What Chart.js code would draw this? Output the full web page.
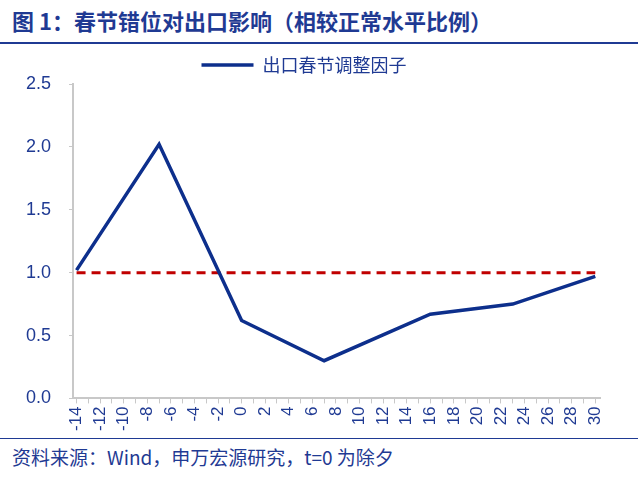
<!DOCTYPE html>
<html>
<head>
<meta charset="utf-8">
<script src="https://cdn.jsdelivr.net/npm/chart.js"></script>
<style>
  body { margin: 0; width: 638px; height: 477px; background: #fff; font-family: "Noto Sans CJK SC", "Liberation Sans", sans-serif; overflow: hidden; }
  #title { position: absolute; left: 12px; top: 4px; font-size: 22px; font-weight: bold; color: #1f3a93; }
  #topline { position: absolute; left: 0; top: 42px; width: 638px; height: 2px; background: #1f3a93; }
  #box { position: absolute; left: 0; top: 52px; width: 638px; height: 382px; }
  #botline { position: absolute; left: 0; top: 438px; width: 638px; height: 1px; background: #1f3a93; }
  #source { position: absolute; left: 12px; top: 443px; font-size: 19px; color: #1f3a93; }
</style>
</head>
<body>
<div id="title">图 1：春节错位对出口影响（相较正常水平比例）</div>
<div id="topline"></div>
<div id="box"><canvas id="myChart"></canvas></div>
<div id="botline"></div>
<div id="source">资料来源：Wind，申万宏源研究，t=0 为除夕</div>
<script>
// data
var days = [-14, -7, 0, 7, 16, 23, 30];
var factor = [1.02, 2.02, 0.62, 0.30, 0.67, 0.75, 0.97];
var baseDays = [-14, 30];
var baseLine = [1.0, 1.0];
var yTicks = [0, 0.5, 1.0, 1.5, 2.0, 2.5];

var blue = '#0d2f8c';
var tickColor = '#1f3a93';

function toPoints(xs, ys) {
    return xs.map(function (x, i) { return { x: x, y: ys[i] }; });
}

var ctx = document.getElementById('myChart').getContext('2d');
var myChart = new Chart(ctx, {
    type: 'line',
    data: {
        datasets: [
            {
                label: '出口春节调整因子',
                data: toPoints(days, factor),
                borderColor: blue,
                backgroundColor: blue,
                borderWidth: 3.5,
                pointRadius: 0,
                tension: 0
            },
            {
                label: 'base',
                data: toPoints(baseDays, baseLine),
                borderColor: '#c00000',
                borderWidth: 3,
                borderDash: [9, 6],
                pointRadius: 0
            }
        ]
    },
    options: {
        responsive: true,
        maintainAspectRatio: false,
        animation: false,
        layout: { padding: { left: 8, right: 38, top: 0, bottom: 0 } },
        plugins: {
            legend: {
                position: 'top',
                labels: {
                    filter: function (item) { return item.text !== 'base'; },
                    usePointStyle: true,
                    pointStyle: 'line',
                    pointStyleWidth: 52,
                    padding: 4,
                    color: tickColor,
                    font: { size: 18, family: 'Noto Sans CJK SC' }
                }
            },
            tooltip: { enabled: false }
        },
        scales: {
            x: {
                type: 'linear',
                min: -14.3,
                max: 30.4,
                afterBuildTicks: function (axis) {
                    var t = [];
                    for (var v = -14; v <= 30; v++) t.push({ value: v });
                    axis.ticks = t;
                },
                ticks: {
                    autoSkip: false,
                    minRotation: 90,
                    maxRotation: 90,
                    color: tickColor,
                    font: { size: 17, family: 'Liberation Sans' },
                    callback: function (v) { return v % 2 === 0 ? String(v) : ''; }
                },
                grid: { drawOnChartArea: false, drawTicks: true, tickLength: 5, color: '#c8c8c8' },
                border: { color: '#c8c8c8', width: 2 }
            },
            y: {
                min: 0,
                max: 2.5,
                afterBuildTicks: function (axis) {
                    axis.ticks = yTicks.map(function (v) { return { value: v }; });
                },
                ticks: {
                    color: tickColor,
                    padding: 18,
                    font: { size: 18, family: 'Liberation Sans' },
                    callback: function (v) { return v.toFixed(1); }
                },
                grid: { drawOnChartArea: false, drawTicks: true, tickLength: 4, color: '#c8c8c8' },
                border: { color: '#c8c8c8', width: 2 }
            }
        }
    }
});
</script>
</body>
</html>
